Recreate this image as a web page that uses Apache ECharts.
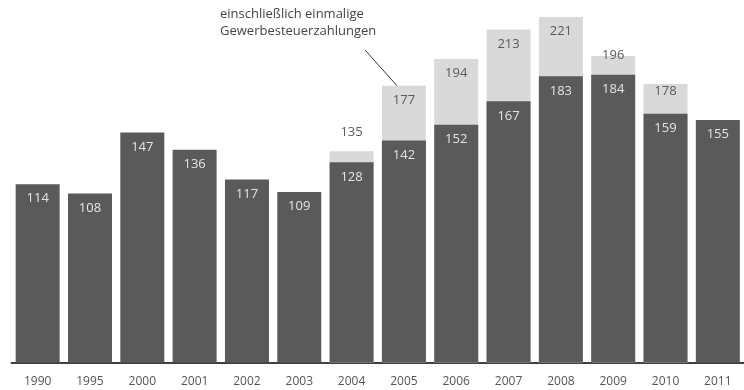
<!DOCTYPE html>
<html>
<head>
<meta charset="utf-8">
<script src="https://cdn.jsdelivr.net/npm/echarts@6/dist/echarts.min.js"></script>
<style>
  html, body { margin: 0; padding: 0; background: #ffffff; }
  #chart { width: 744px; height: 390px; }
</style>
</head>
<body>
<div id="chart"></div>
<script>
// Jahre (Kategorien)
const years = ['1990', '1995', '2000', '2001', '2002', '2003', '2004', '2005', '2006', '2007', '2008', '2009', '2010', '2011'];
// Steuereinnahmen ohne einmalige Gewerbesteuerzahlungen
const baseValues = [114, 108, 147, 136, 117, 109, 128, 142, 152, 167, 183, 184, 159, 155];
// Gesamt einschließlich einmaliger Gewerbesteuerzahlungen
const totalValues = [null, null, null, null, null, null, 135, 177, 194, 213, 221, 196, 178, null];

const annotationLines = ['einschließlich einmalige', 'Gewerbesteuerzahlungen'];

const FONT = '"Open Sans", "Noto Sans", sans-serif';
const DARK = '#5a5a5a';
const LIGHT = '#d9d9d9';

// Label placement for the light (total) segments, per year
const totalLabelPlacement = {
  '2004': { position: 'top', distance: 13 },
  '2009': { position: 'insideTop', distance: -7 },
  '2010': { position: 'insideTop', distance: 1 }
};

const totalData = totalValues.map((v, i) => {
  if (v == null) return null;
  const p = totalLabelPlacement[years[i]];
  return p ? { value: v, label: { position: p.position, distance: p.distance } } : v;
});

const chart = echarts.init(document.getElementById('chart'), null, { renderer: 'canvas' });

chart.setOption({
  animation: false,
  backgroundColor: '#ffffff',
  grid: { left: 11.5, top: 2.8, width: 742, bottom: 27.5, containLabel: false },
  xAxis: {
    type: 'category',
    data: years,
    axisLine: { show: true, lineStyle: { color: '#3f3f3f', width: 2 } },
    axisTick: { show: false },
    axisLabel: { color: '#555555', fontSize: 12, fontFamily: FONT, margin: 13.5 }
  },
  yAxis: {
    type: 'value',
    min: 0,
    max: 230,
    show: false,
    splitLine: { show: false }
  },
  series: [
    {
      name: 'gesamt',
      type: 'bar',
      data: totalData,
      barWidth: 44,
      barGap: '-100%',
      itemStyle: { color: LIGHT },
      label: {
        show: true,
        position: 'insideTop',
        distance: 8,
        color: '#5a5a5a',
        fontSize: 13,
        fontFamily: FONT
      },
      z: 1
    },
    {
      name: 'ohne einmalige Zahlungen',
      type: 'bar',
      data: baseValues,
      barWidth: 44,
      barGap: '-100%',
      itemStyle: { color: DARK },
      label: {
        show: true,
        position: 'insideTop',
        distance: 8,
        color: '#e4e4e4',
        fontSize: 13,
        fontFamily: FONT
      },
      z: 2
    }
  ],
  graphic: [
    {
      type: 'text',
      left: 220,
      top: 6,
      style: {
        text: annotationLines.join('\n'),
        fill: '#444444',
        fontSize: 13,
        lineHeight: 17,
        fontFamily: FONT
      }
    },
    {
      type: 'line',
      shape: { x1: 365, y1: 50, x2: 399, y2: 88 },
      style: { stroke: '#333333', lineWidth: 1 }
    }
  ]
});
</script>
</body>
</html>
